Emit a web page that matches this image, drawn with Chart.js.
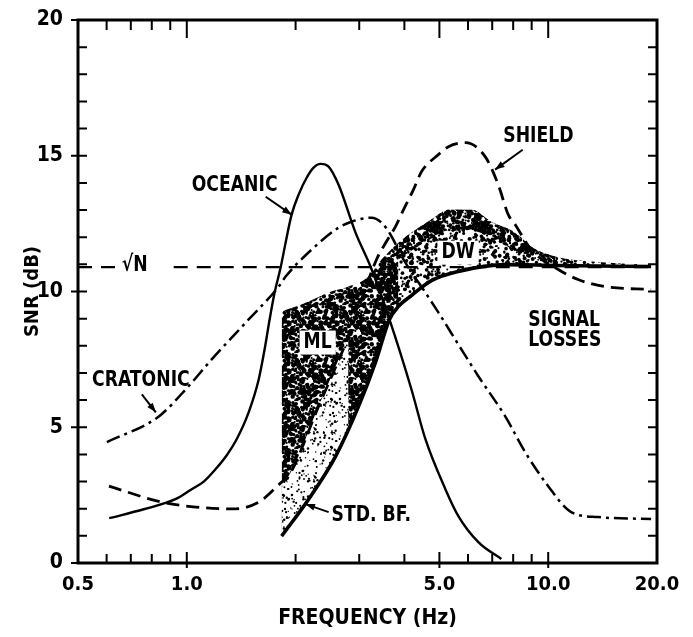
<!DOCTYPE html>
<html>
<head>
<meta charset="utf-8">
<script src="https://cdn.jsdelivr.net/npm/chart.js@4.4.1/dist/chart.umd.min.js"></script>
<style>
  html, body { margin: 0; padding: 0; background: #fff; }
  #wrap { width: 693px; height: 637px; }
</style>
</head>
<body>
<div id="wrap"><canvas id="snr-chart"></canvas></div>
<script>
// [frequency (Hz), SNR (dB)]
const oceanic = [
  [0.61, 1.65], [0.76, 1.98], [0.93, 2.35], [1.032, 2.72], [1.114, 3.0], [1.202, 3.46],
  [1.29, 3.97], [1.374, 4.56], [1.483, 5.55], [1.581, 6.76], [1.642, 7.87], [1.695, 8.97],
  [1.75, 9.96], [1.818, 10.88], [1.877, 11.8], [1.95, 12.83], [2.039, 13.57], [2.146, 14.19],
  [2.243, 14.56], [2.345, 14.7], [2.468, 14.6], [2.63, 13.93], [2.93, 12.17], [3.223, 10.92],
  [3.637, 8.97], [4.183, 6.4], [4.574, 4.56], [5.194, 2.72], [5.641, 1.73], [6.408, 0.77],
  [7.418, 0.15]
];
const cratonic = [
  [0.601, 4.45], [0.837, 5.4], [0.994, 6.4], [1.172, 7.5], [1.483, 8.97], [1.796, 10.18],
  [1.877, 10.55], [2.214, 11.54], [2.63, 12.35], [2.856, 12.57], [3.243, 12.72], [3.458, 12.54],
  [3.66, 12.1], [3.976, 11.18], [4.574, 9.96], [4.967, 9.23], [5.641, 8.05], [6.408, 6.88],
  [7.606, 5.4], [8.64, 4.08], [10.0, 2.83], [11.57, 1.875], [13.75, 1.69], [19.26, 1.62]
];
const shield = [
  [0.609, 2.83], [0.853, 2.24], [0.994, 2.1], [1.331, 1.99], [1.581, 2.24], [1.83, 2.98],
  [1.913, 3.2], [2.315, 5.77], [2.802, 8.35], [3.35, 11.18], [3.568, 11.84], [3.779, 12.39],
  [3.976, 13.01], [4.238, 13.75], [4.46, 14.41], [4.967, 15.04], [5.295, 15.33], [5.9, 15.48],
  [6.699, 14.96], [7.275, 13.93], [7.753, 12.83], [8.106, 12.46], [8.975, 11.54], [10.66, 10.81],
  [12.1, 10.44], [14.37, 10.18], [19.26, 10.07]
];
const stdBF = [
  [1.83, 0.99], [2.173, 2.35], [2.58, 3.93], [2.987, 5.77], [3.327, 7.39], [3.637, 8.97],
  [3.851, 9.45], [4.183, 9.85], [4.751, 10.4], [5.641, 10.74], [7.606, 10.99], [10.45, 10.96],
  [19.26, 10.92]
];
// edges of the stippled zones
const mlTop = [
  [1.83, 9.26], [2.173, 9.63], [2.468, 9.96], [2.802, 10.18], [3.184, 10.55], [3.458, 11.18],
  [3.685, 11.54], [3.851, 11.8]
];
const dwTop = [
  [3.458, 11.18], [3.851, 11.8], [4.751, 12.65], [5.295, 13.01], [6.127, 13.01], [6.961, 12.57],
  [8.106, 12.17], [8.975, 11.65], [10.45, 11.29], [14.37, 11.07], [17.66, 11.0]
];
const dwBandLow = [
  [3.851, 11.2], [4.751, 11.95], [5.295, 12.25], [6.127, 12.25], [6.961, 11.95], [8.106, 11.5],
  [8.975, 11.2], [10.45, 11.05]
];
const sqrtN = 10.9;
const sqrtNGap = [0.64, 0.92];

const xTickLabels = [0.5, 1, 5, 10, 20];
const xTickMarks = [0.6, 0.7, 0.8, 0.9, 1, 2, 3, 4, 5, 6, 7, 8, 9, 10];
const xMajorMarks = [1, 5, 10];
const yTickLabels = [0, 5, 10, 15, 20];
const yMajorMarks = [5, 10, 15];

const FONT = "'Liberation Sans Narrow', 'DejaVu Sans Condensed', 'Arial Narrow', sans-serif";

const labels = [
  { text: 'OCEANIC', x: 1.032, y: 13.93 },
  { text: 'SHIELD', x: 7.51, y: 15.7 },
  { text: 'CRATONIC', x: 0.547, y: 6.73 },
  { text: 'SIGNAL', x: 8.81, y: 8.93 },
  { text: 'LOSSES', x: 8.81, y: 8.22 },
  { text: 'STD. BF.', x: 2.515, y: 1.76 },
  { text: 'ML', x: 2.105, y: 8.12, box: true },
  { text: 'DW', x: 5.064, y: 11.43, box: true },
  { text: '\u221AN', x: 0.661, y: 10.95 }
];
const arrows = [
  { from: [1.653, 13.49], to: [1.95, 12.83] },
  { from: [8.5, 15.22], to: [7.13, 14.49] },
  { from: [0.751, 6.21], to: [0.821, 5.55] },
  { from: [2.469, 1.875], to: [2.131, 2.17] }
];

const canvas = document.getElementById('snr-chart');

function pts(list) {
  return list.map(p => ({ x: p[0], y: p[1] }));
}

// stipple texture for the shaded zones (fixed seed so every render is the same)
function stipple(count, rMin, rMax, background, seed) {
  const size = 48;
  const tile = document.createElement('canvas');
  tile.width = tile.height = size;
  const c = tile.getContext('2d');
  if (background) {
    c.fillStyle = background;
    c.fillRect(0, 0, size, size);
  }
  c.fillStyle = '#000';
  const next = () => (seed = (seed * 16807) % 2147483647) / 2147483647;
  for (let i = 0; i < count; i++) {
    const x = next() * size, y = next() * size, r = rMin + next() * (rMax - rMin);
    for (const dx of [-size, 0, size]) {
      for (const dy of [-size, 0, size]) {
        c.beginPath();
        c.arc(x + dx, y + dy, r, 0, Math.PI * 2);
        c.fill();
      }
    }
  }
  return canvas.getContext('2d').createPattern(tile, 'repeat');
}

const denseFill = stipple(380, 1.0, 2.3, null, 12345);
const mediumFill = stipple(170, 0.9, 2.1, null, 777);
const bandFill = stipple(260, 1.0, 2.3, null, 4242);
const lightFill = stipple(120, 0.6, 1.3, '#fff', 999);

const lightZone = shield.filter(p => p[0] >= 1.8 && p[0] <= 2.9);

const sqrtNLine = [
  { x: 0.5, y: sqrtN }, { x: sqrtNGap[0], y: sqrtN },
  { x: (sqrtNGap[0] + sqrtNGap[1]) / 2, y: null },
  { x: sqrtNGap[1], y: sqrtN }, { x: 20, y: sqrtN }
];

const decorations = {
  id: 'decorations',
  afterDatasetsDraw(chart) {
    const { ctx, chartArea: a, scales: { x, y } } = chart;
    ctx.save();
    ctx.strokeStyle = '#000';
    ctx.fillStyle = '#000';

    // frame
    ctx.lineWidth = 3;
    ctx.strokeRect(a.left, a.top, a.right - a.left, a.bottom - a.top);

    // inward tick marks on all four sides
    ctx.lineWidth = 2;
    ctx.beginPath();
    xTickMarks.forEach(v => {
      const px = x.getPixelForValue(v);
      const big = xMajorMarks.includes(v);
      ctx.moveTo(px, a.bottom + (big ? 5 : 0));
      ctx.lineTo(px, a.bottom - (big ? 11 : 9));
      ctx.moveTo(px, a.top);
      ctx.lineTo(px, a.top + (big ? 18 : 10));
    });
    for (let v = 1; v < 20; v++) {
      const py = y.getPixelForValue(v);
      const big = yMajorMarks.includes(v);
      ctx.moveTo(a.left - (big ? 7 : 0), py);
      ctx.lineTo(a.left + 9, py);
      ctx.moveTo(a.right, py);
      ctx.lineTo(a.right - 9, py);
    }
    ctx.moveTo(a.left - 7, a.top);
    ctx.lineTo(a.left, a.top);
    ctx.moveTo(a.left - 7, a.bottom);
    ctx.lineTo(a.left, a.bottom);
    ctx.stroke();

    // pointer arrows
    arrows.forEach(ar => {
      const x0 = x.getPixelForValue(ar.from[0]), y0 = y.getPixelForValue(ar.from[1]);
      const x1 = x.getPixelForValue(ar.to[0]), y1 = y.getPixelForValue(ar.to[1]);
      const ang = Math.atan2(y1 - y0, x1 - x0);
      ctx.lineWidth = 2;
      ctx.beginPath();
      ctx.moveTo(x0, y0);
      ctx.lineTo(x1, y1);
      ctx.stroke();
      ctx.beginPath();
      ctx.moveTo(x1, y1);
      ctx.lineTo(x1 - 10 * Math.cos(ang - 0.35), y1 - 10 * Math.sin(ang - 0.35));
      ctx.lineTo(x1 - 10 * Math.cos(ang + 0.35), y1 - 10 * Math.sin(ang + 0.35));
      ctx.closePath();
      ctx.fill();
    });

    // curve and zone labels, squeezed a little to look like the condensed lettering
    const squeeze = 0.87;
    ctx.font = 'bold 22px ' + FONT;
    ctx.textBaseline = 'middle';
    ctx.textAlign = 'left';
    labels.forEach(l => {
      const px = x.getPixelForValue(l.x), py = y.getPixelForValue(l.y);
      if (l.box) {
        const w = ctx.measureText(l.text).width * squeeze;
        ctx.fillStyle = '#fff';
        ctx.fillRect(px - 4, py - 12, w + 8, 24);
        ctx.fillStyle = '#000';
      }
      ctx.save();
      ctx.translate(px, py);
      ctx.scale(squeeze, 1);
      ctx.fillText(l.text, 0, 0);
      ctx.restore();
    });
    ctx.restore();
  }
};

new Chart(canvas, {
  type: 'line',
  data: {
    datasets: [
      { label: 'Oceanic', data: pts(oceanic), borderColor: '#000', borderWidth: 2.4, fill: false },
      { label: 'Cratonic', data: pts(cratonic), borderColor: '#000', borderWidth: 2.5,
        borderDash: [14, 5, 3, 5], fill: false },
      { label: 'Shield', data: pts(shield), borderColor: '#000', borderWidth: 2.8,
        borderDash: [13, 7], fill: false },
      { label: 'Std. BF.', data: pts(stdBF), borderColor: '#000', borderWidth: 3.6, fill: false },
      { label: 'sqrt N', data: sqrtNLine, borderColor: '#000', borderWidth: 2.2,
        borderDash: [14, 9], fill: false, cubicInterpolationMode: 'default', tension: 0 },
      { label: 'light zone', data: pts(lightZone), borderColor: 'transparent', borderWidth: 0,
        backgroundColor: lightFill, fill: 3 },
      { label: 'ML', data: pts(mlTop), borderColor: 'transparent', borderWidth: 0,
        backgroundColor: denseFill, fill: 3 },
      { label: 'DW', data: pts(dwTop), borderColor: 'transparent', borderWidth: 0,
        backgroundColor: mediumFill, fill: 3 },
      { label: 'DW band', data: pts(dwBandLow), borderColor: 'transparent', borderWidth: 0,
        backgroundColor: bandFill, fill: 7 }
    ]
  },
  options: {
    responsive: true,
    maintainAspectRatio: false,
    animation: false,
    layout: { padding: { top: 20, right: 36, bottom: 0, left: 0 } },
    elements: {
      point: { radius: 0, hoverRadius: 0 },
      line: { cubicInterpolationMode: 'monotone', borderCapStyle: 'butt' }
    },
    plugins: {
      legend: { display: false },
      tooltip: { enabled: false }
    },
    scales: {
      x: {
        type: 'logarithmic',
        min: 0.5,
        max: 20,
        afterBuildTicks: scale => { scale.ticks = xTickLabels.map(v => ({ value: v })); },
        afterFit: scale => {
          scale.height = 74;
          scale.paddingLeft = 0;
          scale.paddingRight = 0;
        },
        grid: { display: false, drawTicks: false },
        border: { display: false },
        ticks: {
          autoSkip: false,
          maxRotation: 0,
          padding: 10,
          color: '#000',
          font: { family: FONT, size: 20, weight: 'bold' },
          callback: v => Number(v).toFixed(1)
        },
        title: {
          display: true,
          text: 'FREQUENCY (Hz)',
          color: '#000',
          font: { family: FONT, size: 21, weight: 'bold' },
          padding: { top: 0, bottom: 6 }
        }
      },
      y: {
        min: 0,
        max: 20,
        afterBuildTicks: scale => { scale.ticks = yTickLabels.map(v => ({ value: v })); },
        afterFit: scale => {
          scale.width = 78;
          scale.paddingTop = 0;
          scale.paddingBottom = 0;
        },
        grid: { display: false, drawTicks: false },
        border: { display: false },
        ticks: {
          padding: 15,
          color: '#000',
          font: { family: FONT, size: 21, weight: 'bold' }
        },
        title: {
          display: true,
          text: 'SNR (dB)',
          color: '#000',
          font: { family: FONT, size: 20, weight: 'bold' },
          padding: { top: 21, bottom: 0 }
        }
      }
    }
  },
  plugins: [decorations]
});
</script>
</body>
</html>
